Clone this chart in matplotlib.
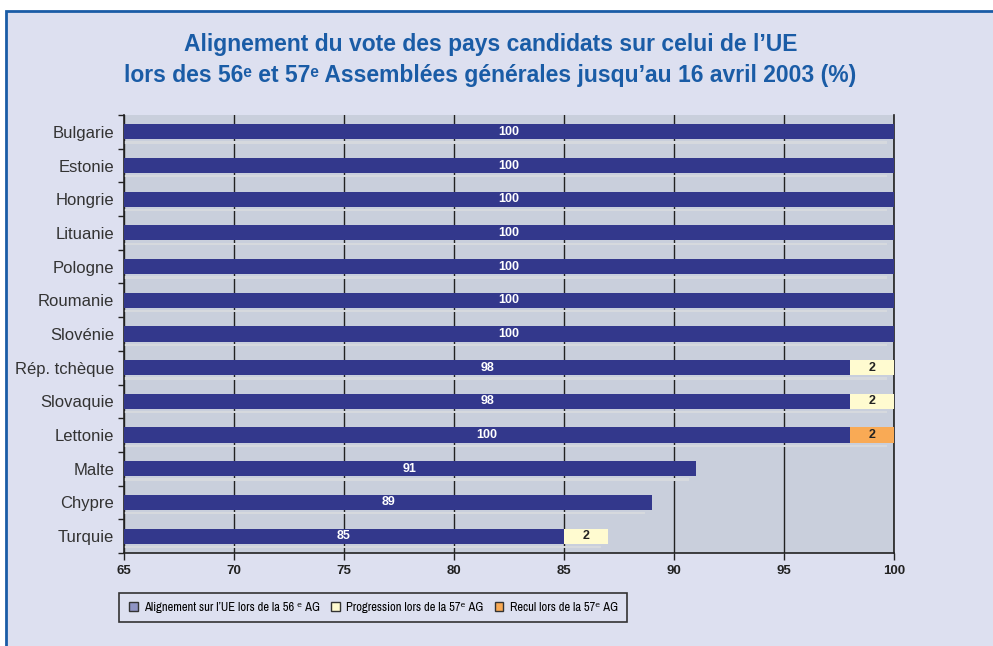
import matplotlib
matplotlib.use("Agg")
import matplotlib.pyplot as plt
from matplotlib import font_manager
from matplotlib.patches import Patch, Rectangle
import numpy as np

plt.rcParams['font.family'] = ['Liberation Sans', 'DejaVu Sans']

# données
pays = ["Bulgarie", "Estonie", "Hongrie", "Lituanie", "Pologne", "Roumanie",
        "Slovénie", "Rép. tchèque", "Slovaquie", "Lettonie", "Malte", "Chypre",
        "Turquie"]
alignement = [100, 100, 100, 100, 100, 100, 100, 98, 98, 98, 91, 89, 85]
alignement_labels = ["100", "100", "100", "100", "100", "100", "100",
                     "98", "98", "100", "91", "89", "85"]
progression = [0, 0, 0, 0, 0, 0, 0, 2, 2, 0, 0, 0, 2]
recul = [0, 0, 0, 0, 0, 0, 0, 0, 0, 2, 0, 0, 0]
xticks = [65, 70, 75, 80, 85, 90, 95, 100]

# couleurs
c_navy = "#33388c"
c_yellow = "#fffbd0"
c_orange = "#f9aa55"
c_plot = "#c9cfdc"
c_bg = "#dde0f0"
c_title = "#1a5ca6"

# police étroite pour la légende si disponible
narrow = None
for f in font_manager.fontManager.ttflist:
    if "Narrow" in f.name or "Condensed" in f.name:
        narrow = {"family": [f.name, "DejaVu Sans"], "size": 9}
        break
if narrow is None:
    narrow = {"family": ["Liberation Sans", "DejaVu Sans"], "size": 8}

fig = plt.figure(figsize=(9.93, 6.46), dpi=100, facecolor="white")
# cadre bleu
fig.patches.append(Rectangle((0.006, -0.05), 1.2, 1.0337, transform=fig.transFigure,
                             facecolor=c_bg, edgecolor=c_title, linewidth=2, zorder=-10))

ax = fig.add_axes([0.1249, 0.144, 0.7754, 0.678])
ax.set_facecolor(c_plot)

y = np.arange(len(pays))
h = 0.45
xmin = 65

left = np.array(alignement)
# ombre claire sous les barres
tot = left + np.array(progression) + np.array(recul)
ax.barh(y + 0.32, tot - xmin - 0.3, left=xmin, height=0.07, color="#d6d9de", zorder=2)

ax.barh(y, left - xmin, left=xmin, height=h, color=c_navy, zorder=3)
ax.barh(y, progression, left=left, height=h, color=c_yellow, zorder=3)
ax.barh(y, recul, left=left, height=h, color=c_orange, zorder=3)

for i in range(len(pays)):
    ax.text((xmin + alignement[i]) / 2, i, alignement_labels[i], ha="center", va="center",
            color="white", fontsize=9, fontweight="bold", zorder=4)
    if progression[i]:
        ax.text(left[i] + progression[i] / 2, i, str(progression[i]), ha="center",
                va="center", color="#222222", fontsize=9, fontweight="bold", zorder=4)
    if recul[i]:
        ax.text(left[i] + recul[i] / 2, i, str(recul[i]), ha="center",
                va="center", color="#222222", fontsize=9, fontweight="bold", zorder=4)

ax.set_xlim(65, 100)
ax.set_ylim(len(pays) - 0.5, -0.5)
ax.set_xticks(xticks)
ax.set_xticklabels([str(v) for v in xticks], fontsize=9.5, fontweight="bold", color="#222222")
ax.tick_params(axis="x", length=5, width=1, color="#222222", pad=4)

ax.set_yticks(y)
ax.set_yticklabels(pays, fontsize=12, color="#333333")
ax.tick_params(axis="y", which="major", length=0, pad=7)
ax.set_yticks(np.arange(-0.5, len(pays)), minor=True)
ax.tick_params(axis="y", which="minor", length=4, width=1, color="#222222")

ax.grid(axis="x", color="#222222", linewidth=1)
ax.set_axisbelow(True)
ax.spines["top"].set_visible(False)
for s in ["left", "bottom", "right"]:
    ax.spines[s].set_color("#222222")
    ax.spines[s].set_linewidth(1.2)

fig.text(0.494, 0.931, "Alignement du vote des pays candidats sur celui de l\u2019UE",
         ha="center", va="center", fontsize=16.5, fontweight="bold", color=c_title)
fig.text(0.494, 0.883, "lors des 56\u1d49 et 57\u1d49 Assembl\u00e9es g\u00e9n\u00e9rales jusqu\u2019au 16 avril 2003 (%)",
         ha="center", va="center", fontsize=16.5, fontweight="bold", color=c_title)

handles = [Patch(facecolor="#8f94c4", edgecolor="#333333"),
           Patch(facecolor=c_yellow, edgecolor="#333333"),
           Patch(facecolor=c_orange, edgecolor="#333333")]
labels = ["Alignement sur l\u2019UE lors de la 56 \u1d49 AG",
          "Progression lors de la 57\u1d49 AG",
          "Recul lors de la 57\u1d49 AG"]
leg = fig.legend(handles, labels, loc="center left", bbox_to_anchor=(0.114, 0.0596),
                 ncol=3, frameon=True, fancybox=False, edgecolor="#333333",
                 prop=narrow,
                 facecolor=c_bg, handlelength=0.7, handleheight=0.8, handletextpad=0.5,
                 columnspacing=0.9, borderpad=0.75)
leg.get_frame().set_linewidth(1.2)
leg.get_frame().set_alpha(1)

fig.savefig("out.png", dpi=100, facecolor=fig.get_facecolor())
